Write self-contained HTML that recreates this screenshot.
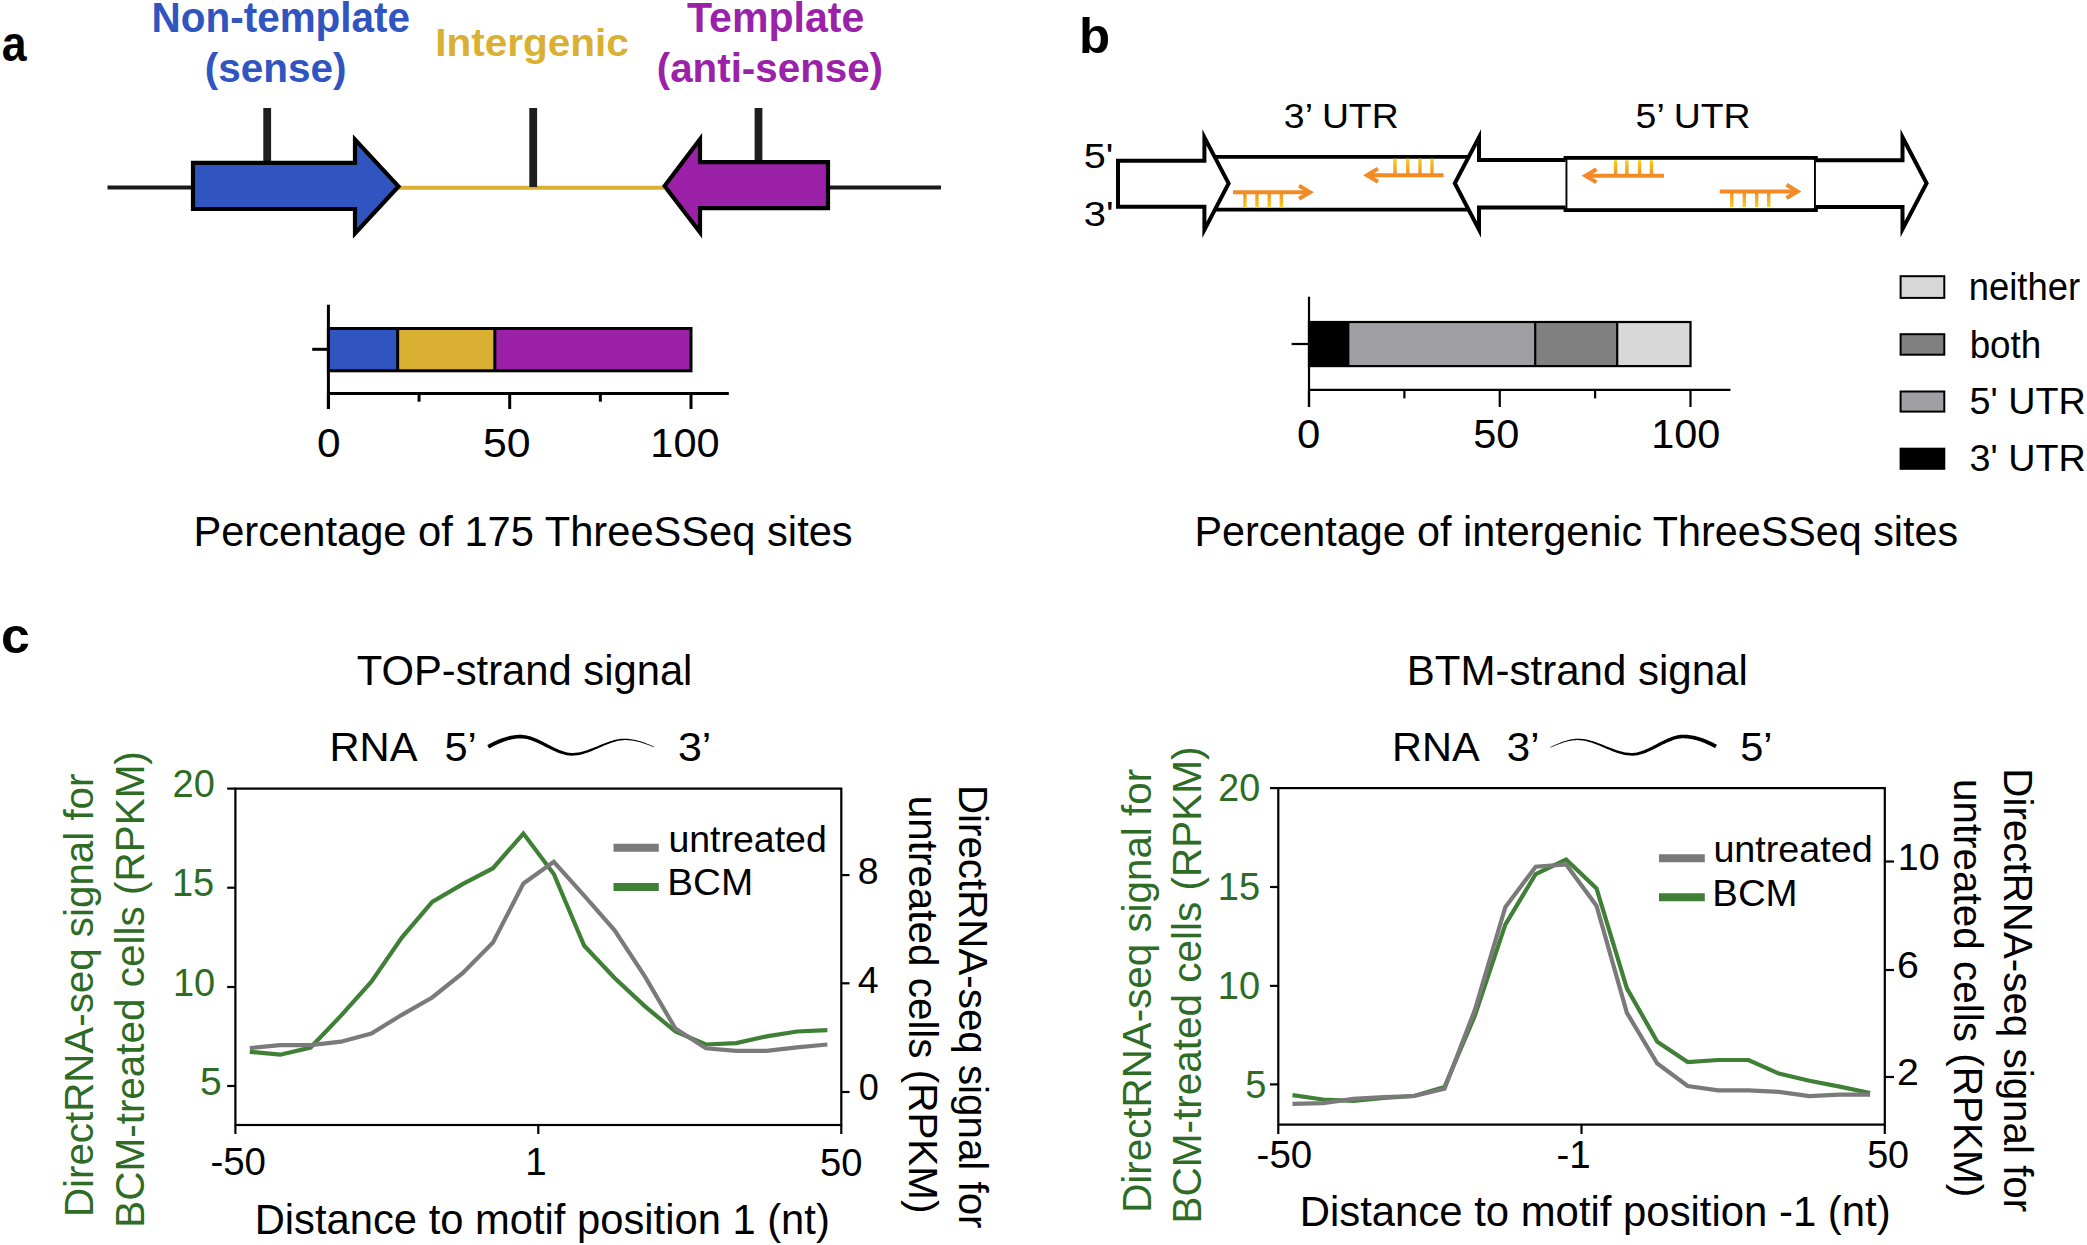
<!DOCTYPE html>
<html><head><meta charset="utf-8"><title>Figure</title>
<style>
html,body{margin:0;padding:0;background:#fff;}
body{width:2087px;height:1245px;overflow:hidden;}
svg{display:block;font-family:"Liberation Sans", Arial, sans-serif;}
</style></head>
<body>
<svg width="2087" height="1245" viewBox="0 0 2087 1245">
<rect width="2087" height="1245" fill="#fff"/>
<line x1="107.5" y1="187.6" x2="195" y2="187.6" stroke="#1a1a1a" stroke-width="4"/>
<line x1="398" y1="187.7" x2="664" y2="187.7" stroke="#dab032" stroke-width="4"/>
<line x1="826" y1="187.4" x2="941" y2="187.4" stroke="#1a1a1a" stroke-width="4"/>
<line x1="267.2" y1="108" x2="267.2" y2="163" stroke="#1e1e1e" stroke-width="7.8"/>
<line x1="533.2" y1="108" x2="533.2" y2="187" stroke="#1e1e1e" stroke-width="7.8"/>
<line x1="758.5" y1="108" x2="758.5" y2="163" stroke="#1e1e1e" stroke-width="7.8"/>
<path d="M193,162.8 L355,162.8 L355,139.5 L398.5,186.4 L355,233.5 L355,209 L193,209 Z" fill="#3054c0" stroke="#000" stroke-width="4.2" stroke-linejoin="miter" stroke-miterlimit="10"/>
<path d="M828,162.2 L700,162.2 L700,139.3 L664.6,186 L700,232.2 L700,208.2 L828,208.2 Z" fill="#9b22a8" stroke="#000" stroke-width="4.2" stroke-linejoin="miter" stroke-miterlimit="10"/>
<rect x="328.4" y="328.5" width="69.25659999999999" height="42.3" fill="#3054c0"/>
<rect x="397.65659999999997" y="328.5" width="97.17680000000001" height="42.3" fill="#dab032"/>
<rect x="494.8334" y="328.5" width="196.16660000000002" height="42.3" fill="#9b22a8"/>
<rect x="328.4" y="328.5" width="362.6" height="42.3" fill="none" stroke="#000" stroke-width="3"/>
<line x1="397.65659999999997" y1="328.5" x2="397.65659999999997" y2="370.8" stroke="#000" stroke-width="3"/>
<line x1="494.8334" y1="328.5" x2="494.8334" y2="370.8" stroke="#000" stroke-width="3"/>
<line x1="328.4" y1="304.7" x2="328.4" y2="409" stroke="#000" stroke-width="3"/>
<line x1="312.2" y1="349.3" x2="328.4" y2="349.3" stroke="#000" stroke-width="3"/>
<line x1="328.4" y1="393.5" x2="728.8" y2="393.5" stroke="#000" stroke-width="3"/>
<line x1="328.4" y1="393.5" x2="328.4" y2="409" stroke="#000" stroke-width="3"/>
<line x1="419.04999999999995" y1="393.5" x2="419.04999999999995" y2="401.7" stroke="#000" stroke-width="3"/>
<line x1="509.7" y1="393.5" x2="509.7" y2="409" stroke="#000" stroke-width="3"/>
<line x1="600.3499999999999" y1="393.5" x2="600.3499999999999" y2="401.7" stroke="#000" stroke-width="3"/>
<line x1="691.0" y1="393.5" x2="691.0" y2="409" stroke="#000" stroke-width="3"/>
<path d="M1208,156.9 L1476,156.9 M1208,209.7 L1476,209.7" stroke="#000" stroke-width="3.8"/>
<rect x="1565.5" y="157.9" width="250.4" height="52.2" fill="none" stroke="#000" stroke-width="3.8"/>
<path d="M1118,160.8 L1204.4,160.8 L1204.4,137.4 L1228.6,183.4 L1204.4,229.8 L1204.4,206.8 L1118,206.8 Z" fill="#fff" stroke="#000" stroke-width="4" stroke-miterlimit="10"/>
<path d="M1565.5,159.9 L1479,159.9 L1479,137.4 L1454.8,183.3 L1479,229.6 L1479,207.5 L1565.5,207.5" fill="#fff" stroke="#000" stroke-width="4" stroke-miterlimit="10"/>
<path d="M1815.9,160.2 L1902.5,160.2 L1902.5,137.2 L1926.6,183.2 L1902.5,229.2 L1902.5,207 L1815.9,207" fill="#fff" stroke="#000" stroke-width="4" stroke-miterlimit="10"/>
<defs>
<linearGradient id="gd" x1="0" y1="0" x2="0" y2="1"><stop offset="0" stop-color="#f28a25"/><stop offset="1" stop-color="#f5d21c"/></linearGradient>
<linearGradient id="gu" x1="0" y1="1" x2="0" y2="0"><stop offset="0" stop-color="#f28a25"/><stop offset="1" stop-color="#f5d21c"/></linearGradient>
</defs>
<line x1="1233" y1="192.2" x2="1310" y2="192.2" stroke="#f28a25" stroke-width="4"/>
<path d="M1299,185.6 L1310,192.2 L1299,198.79999999999998" fill="none" stroke="#f28a25" stroke-width="4" stroke-linejoin="miter"/>
<rect x="1243.2" y="192.2" width="3.4" height="15.400000000000006" fill="url(#gd)"/>
<rect x="1255.3" y="192.2" width="3.4" height="15.400000000000006" fill="url(#gd)"/>
<rect x="1267.5" y="192.2" width="3.4" height="15.400000000000006" fill="url(#gd)"/>
<rect x="1279.6" y="192.2" width="3.4" height="15.400000000000006" fill="url(#gd)"/>
<line x1="1367" y1="175.2" x2="1443.5" y2="175.2" stroke="#f28a25" stroke-width="4"/>
<path d="M1378,168.6 L1367,175.2 L1378,181.79999999999998" fill="none" stroke="#f28a25" stroke-width="4" stroke-linejoin="miter"/>
<rect x="1393.3" y="158.7" width="3.4" height="16.5" fill="url(#gu)"/>
<rect x="1406.1" y="158.7" width="3.4" height="16.5" fill="url(#gu)"/>
<rect x="1418.3" y="158.7" width="3.4" height="16.5" fill="url(#gu)"/>
<rect x="1430.3" y="158.7" width="3.4" height="16.5" fill="url(#gu)"/>
<line x1="1585.5" y1="175.8" x2="1664" y2="175.8" stroke="#f28a25" stroke-width="4"/>
<path d="M1596.5,169.20000000000002 L1585.5,175.8 L1596.5,182.4" fill="none" stroke="#f28a25" stroke-width="4" stroke-linejoin="miter"/>
<rect x="1613.8999999999999" y="160.3" width="3.4" height="15.5" fill="url(#gu)"/>
<rect x="1625.2" y="160.3" width="3.4" height="15.5" fill="url(#gu)"/>
<rect x="1637.8999999999999" y="160.3" width="3.4" height="15.5" fill="url(#gu)"/>
<rect x="1649.8" y="160.3" width="3.4" height="15.5" fill="url(#gu)"/>
<line x1="1719.8" y1="191.4" x2="1797.5" y2="191.4" stroke="#f28a25" stroke-width="4"/>
<path d="M1786.5,184.8 L1797.5,191.4 L1786.5,198.0" fill="none" stroke="#f28a25" stroke-width="4" stroke-linejoin="miter"/>
<rect x="1730.1" y="191.4" width="3.4" height="15.599999999999994" fill="url(#gd)"/>
<rect x="1742.6" y="191.4" width="3.4" height="15.599999999999994" fill="url(#gd)"/>
<rect x="1755.0" y="191.4" width="3.4" height="15.599999999999994" fill="url(#gd)"/>
<rect x="1767.0" y="191.4" width="3.4" height="15.599999999999994" fill="url(#gd)"/>
<rect x="1309.0" y="322.0" width="39.29449999999997" height="44.1" fill="#000" />
<rect x="1348.2945" y="322.0" width="186.90550000000007" height="44.1" fill="#a0a0a4" />
<rect x="1535.2" y="322.0" width="82.0" height="44.1" fill="#808080" />
<rect x="1617.2" y="322.0" width="73.29999999999995" height="44.1" fill="#d8d8d8" />
<rect x="1309.0" y="322.0" width="381.5" height="44.1" fill="none" stroke="#000" stroke-width="2.2"/>
<line x1="1348.2945" y1="322.0" x2="1348.2945" y2="366.1" stroke="#000" stroke-width="2.2"/>
<line x1="1535.2" y1="322.0" x2="1535.2" y2="366.1" stroke="#000" stroke-width="2.2"/>
<line x1="1617.2" y1="322.0" x2="1617.2" y2="366.1" stroke="#000" stroke-width="2.2"/>
<line x1="1309.0" y1="296.7" x2="1309.0" y2="407" stroke="#000" stroke-width="2.2"/>
<line x1="1291.6" y1="344.0" x2="1309.0" y2="344.0" stroke="#000" stroke-width="2.2"/>
<line x1="1309.0" y1="389.9" x2="1730.5" y2="389.9" stroke="#000" stroke-width="2.2"/>
<line x1="1309.0" y1="389.9" x2="1309.0" y2="407" stroke="#000" stroke-width="2.2"/>
<line x1="1404.375" y1="389.9" x2="1404.375" y2="398.4" stroke="#000" stroke-width="2.2"/>
<line x1="1499.75" y1="389.9" x2="1499.75" y2="407" stroke="#000" stroke-width="2.2"/>
<line x1="1595.125" y1="389.9" x2="1595.125" y2="398.4" stroke="#000" stroke-width="2.2"/>
<line x1="1690.5" y1="389.9" x2="1690.5" y2="407" stroke="#000" stroke-width="2.2"/>
<rect x="1900.6" y="276.2" width="43.7" height="21.69999999999999" fill="#d8d8d8" stroke="#000" stroke-width="2"/>
<rect x="1900.6" y="334.2" width="43.7" height="20.5" fill="#808080" stroke="#000" stroke-width="2"/>
<rect x="1900.6" y="391.5" width="43.7" height="20.100000000000023" fill="#a0a0a4" stroke="#000" stroke-width="2"/>
<rect x="1900.6" y="448.7" width="43.7" height="20.100000000000023" fill="#000" stroke="#000" stroke-width="2"/>
<path d="M489.13,748.51 L489.93,748.08 L490.73,747.65 L491.52,747.22 L492.32,746.81 L493.11,746.40 L493.90,746.00 L494.70,745.60 L495.49,745.22 L496.28,744.84 L497.07,744.47 L497.86,744.11 L498.65,743.75 L499.44,743.41 L500.23,743.08 L501.02,742.75 L501.80,742.44 L502.59,742.13 L503.38,741.84 L504.16,741.56 L504.94,741.28 L505.73,741.02 L506.51,740.77 L507.29,740.53 L508.07,740.30 L508.85,740.09 L509.63,739.88 L510.41,739.69 L511.19,739.51 L511.97,739.35 L512.75,739.19 L513.52,739.05 L514.30,738.92 L515.07,738.81 L515.85,738.71 L516.62,738.62 L517.39,738.55 L518.17,738.49 L518.94,738.45 L519.71,738.42 L520.45,738.41 L521.66,738.43 L522.88,738.51 L524.10,738.64 L525.32,738.83 L526.56,739.07 L527.80,739.37 L529.04,739.70 L530.30,740.08 L531.55,740.50 L532.82,740.96 L534.08,741.45 L535.36,741.97 L536.63,742.52 L537.91,743.10 L539.20,743.70 L540.48,744.31 L541.78,744.94 L543.07,745.58 L544.37,746.23 L545.67,746.88 L546.97,747.54 L548.28,748.19 L549.59,748.83 L550.90,749.47 L552.21,750.10 L553.53,750.71 L554.85,751.30 L556.17,751.87 L557.50,752.41 L558.83,752.93 L560.17,753.41 L561.50,753.85 L562.85,754.26 L564.19,754.62 L565.54,754.93 L566.89,755.20 L568.25,755.40 L569.61,755.55 L570.97,755.64 L572.33,755.65 L573.70,755.61 L575.06,755.51 L576.42,755.36 L577.78,755.16 L579.13,754.92 L580.48,754.63 L581.82,754.31 L583.16,753.94 L584.50,753.55 L585.83,753.12 L587.16,752.67 L588.48,752.19 L589.81,751.69 L591.13,751.17 L592.45,750.64 L593.77,750.09 L595.08,749.53 L596.39,748.96 L597.70,748.39 L599.01,747.82 L600.32,747.25 L601.62,746.68 L602.93,746.12 L604.23,745.56 L605.53,745.02 L606.83,744.49 L608.13,743.98 L609.42,743.49 L610.72,743.02 L612.01,742.58 L613.30,742.16 L614.59,741.78 L615.88,741.43 L617.17,741.11 L618.46,740.83 L619.75,740.60 L621.03,740.41 L622.32,740.26 L623.60,740.16 L624.89,740.12 L625.61,740.11 L626.34,740.12 L627.06,740.14 L627.78,740.17 L628.50,740.22 L629.23,740.27 L629.95,740.33 L630.68,740.41 L631.40,740.50 L632.13,740.59 L632.85,740.70 L633.58,740.82 L634.31,740.95 L635.03,741.08 L635.76,741.23 L636.49,741.38 L637.22,741.55 L637.95,741.72 L638.68,741.90 L639.41,742.10 L640.14,742.29 L640.87,742.50 L641.60,742.72 L642.33,742.94 L643.06,743.17 L643.80,743.41 L644.53,743.65 L645.26,743.90 L646.00,744.16 L646.73,744.42 L647.46,744.69 L648.20,744.97 L648.93,745.25 L649.67,745.54 L650.40,745.83 L651.13,746.13 L651.87,746.44 L652.61,746.74 L653.34,747.06 L654.08,747.37 L654.32,746.83 L653.59,746.49 L652.86,746.15 L652.14,745.83 L651.41,745.50 L650.68,745.18 L649.94,744.87 L649.21,744.56 L648.48,744.25 L647.75,743.95 L647.02,743.66 L646.29,743.38 L645.56,743.10 L644.83,742.82 L644.09,742.56 L643.36,742.30 L642.63,742.04 L641.89,741.80 L641.16,741.56 L640.43,741.33 L639.69,741.11 L638.96,740.89 L638.22,740.69 L637.49,740.49 L636.75,740.30 L636.01,740.13 L635.28,739.96 L634.54,739.80 L633.80,739.65 L633.06,739.51 L632.32,739.38 L631.58,739.26 L630.84,739.15 L630.10,739.05 L629.36,738.96 L628.62,738.89 L627.88,738.82 L627.14,738.77 L626.39,738.73 L625.65,738.70 L624.91,738.68 L623.57,738.69 L622.22,738.76 L620.88,738.87 L619.53,739.04 L618.19,739.25 L616.85,739.50 L615.51,739.79 L614.17,740.12 L612.83,740.48 L611.49,740.88 L610.15,741.30 L608.82,741.75 L607.48,742.21 L606.15,742.70 L604.82,743.21 L603.49,743.73 L602.16,744.26 L600.84,744.79 L599.51,745.33 L598.19,745.88 L596.87,746.42 L595.55,746.96 L594.23,747.50 L592.91,748.02 L591.60,748.53 L590.29,749.03 L588.98,749.51 L587.68,749.97 L586.37,750.41 L585.07,750.82 L583.77,751.21 L582.48,751.56 L581.19,751.88 L579.90,752.16 L578.62,752.40 L577.34,752.60 L576.07,752.76 L574.80,752.87 L573.53,752.93 L572.27,752.95 L571.04,752.90 L569.81,752.79 L568.58,752.63 L567.35,752.41 L566.11,752.15 L564.87,751.83 L563.62,751.47 L562.38,751.06 L561.12,750.62 L559.87,750.14 L558.61,749.63 L557.35,749.08 L556.08,748.51 L554.81,747.92 L553.54,747.30 L552.26,746.67 L550.98,746.02 L549.70,745.36 L548.42,744.69 L547.13,744.02 L545.84,743.35 L544.55,742.67 L543.25,742.01 L541.96,741.35 L540.65,740.70 L539.35,740.07 L538.04,739.46 L536.72,738.87 L535.41,738.31 L534.08,737.77 L532.76,737.27 L531.42,736.80 L530.09,736.37 L528.74,735.99 L527.39,735.65 L526.04,735.36 L524.67,735.13 L523.30,734.95 L521.93,734.84 L520.55,734.79 L519.67,734.79 L518.83,734.81 L517.99,734.85 L517.15,734.90 L516.30,734.97 L515.46,735.05 L514.62,735.15 L513.78,735.26 L512.94,735.39 L512.10,735.53 L511.27,735.69 L510.43,735.86 L509.59,736.04 L508.76,736.24 L507.92,736.44 L507.09,736.67 L506.25,736.90 L505.42,737.15 L504.59,737.41 L503.76,737.67 L502.92,737.96 L502.09,738.25 L501.27,738.55 L500.44,738.86 L499.61,739.19 L498.78,739.52 L497.95,739.86 L497.13,740.22 L496.30,740.58 L495.48,740.95 L494.65,741.33 L493.83,741.71 L493.01,742.11 L492.19,742.51 L491.36,742.93 L490.54,743.34 L489.72,743.77 L488.90,744.20 L488.08,744.64 L487.27,745.09Z" fill="#000"/>
<path d="M1550.42,747.67 L1551.12,747.37 L1551.82,747.07 L1552.51,746.77 L1553.21,746.48 L1553.90,746.19 L1554.60,745.90 L1555.29,745.61 L1555.99,745.32 L1556.68,745.05 L1557.38,744.77 L1558.07,744.50 L1558.76,744.23 L1559.46,743.97 L1560.15,743.72 L1560.84,743.47 L1561.54,743.22 L1562.23,742.99 L1562.92,742.76 L1563.61,742.54 L1564.30,742.32 L1564.99,742.11 L1565.68,741.92 L1566.37,741.72 L1567.06,741.54 L1567.75,741.37 L1568.43,741.21 L1569.12,741.05 L1569.81,740.91 L1570.49,740.78 L1571.18,740.66 L1571.86,740.55 L1572.55,740.45 L1573.23,740.36 L1573.91,740.28 L1574.59,740.22 L1575.28,740.17 L1575.96,740.13 L1576.64,740.11 L1577.31,740.09 L1577.99,740.10 L1579.30,740.14 L1580.62,740.24 L1581.94,740.38 L1583.26,740.58 L1584.59,740.81 L1585.91,741.09 L1587.23,741.41 L1588.56,741.76 L1589.88,742.14 L1591.21,742.56 L1592.54,743.01 L1593.86,743.48 L1595.20,743.97 L1596.53,744.48 L1597.86,745.01 L1599.20,745.55 L1600.53,746.11 L1601.87,746.67 L1603.21,747.24 L1604.55,747.82 L1605.89,748.39 L1607.24,748.96 L1608.58,749.53 L1609.93,750.09 L1611.28,750.64 L1612.64,751.17 L1613.99,751.69 L1615.35,752.19 L1616.71,752.67 L1618.08,753.13 L1619.45,753.55 L1620.82,753.95 L1622.19,754.31 L1623.57,754.64 L1624.95,754.92 L1626.34,755.17 L1627.73,755.36 L1629.13,755.51 L1630.53,755.61 L1631.93,755.65 L1633.28,755.63 L1634.63,755.54 L1635.98,755.39 L1637.32,755.18 L1638.65,754.91 L1639.99,754.60 L1641.31,754.23 L1642.64,753.83 L1643.96,753.38 L1645.28,752.90 L1646.59,752.38 L1647.91,751.83 L1649.21,751.26 L1650.52,750.67 L1651.82,750.05 L1653.12,749.43 L1654.42,748.78 L1655.71,748.13 L1657.00,747.48 L1658.29,746.82 L1659.57,746.17 L1660.86,745.52 L1662.14,744.87 L1663.41,744.24 L1664.68,743.63 L1665.95,743.03 L1667.21,742.45 L1668.47,741.90 L1669.73,741.38 L1670.98,740.88 L1672.22,740.42 L1673.46,740.00 L1674.70,739.62 L1675.92,739.28 L1677.15,738.99 L1678.36,738.74 L1679.57,738.55 L1680.77,738.41 L1681.96,738.33 L1683.18,738.30 L1683.97,738.32 L1684.76,738.34 L1685.55,738.38 L1686.33,738.44 L1687.12,738.51 L1687.91,738.59 L1688.70,738.68 L1689.49,738.79 L1690.28,738.91 L1691.07,739.04 L1691.86,739.19 L1692.66,739.35 L1693.45,739.52 L1694.24,739.70 L1695.03,739.90 L1695.83,740.11 L1696.62,740.32 L1697.42,740.55 L1698.21,740.80 L1699.01,741.05 L1699.81,741.31 L1700.60,741.59 L1701.40,741.87 L1702.20,742.17 L1703.00,742.48 L1703.80,742.79 L1704.60,743.12 L1705.40,743.46 L1706.20,743.81 L1707.00,744.16 L1707.81,744.53 L1708.61,744.90 L1709.41,745.28 L1710.22,745.68 L1711.02,746.08 L1711.83,746.49 L1712.63,746.91 L1713.44,747.33 L1714.25,747.76 L1715.07,748.21 L1716.93,744.79 L1716.11,744.34 L1715.28,743.90 L1714.45,743.46 L1713.61,743.03 L1712.78,742.61 L1711.94,742.20 L1711.11,741.79 L1710.27,741.40 L1709.43,741.02 L1708.60,740.64 L1707.76,740.27 L1706.92,739.92 L1706.08,739.57 L1705.24,739.23 L1704.40,738.91 L1703.56,738.59 L1702.72,738.29 L1701.88,737.99 L1701.03,737.71 L1700.19,737.44 L1699.35,737.18 L1698.50,736.93 L1697.66,736.70 L1696.81,736.47 L1695.97,736.26 L1695.12,736.06 L1694.27,735.87 L1693.42,735.70 L1692.58,735.54 L1691.73,735.39 L1690.88,735.26 L1690.03,735.14 L1689.18,735.03 L1688.33,734.94 L1687.48,734.86 L1686.63,734.80 L1685.77,734.75 L1684.92,734.72 L1684.07,734.70 L1683.22,734.70 L1681.87,734.74 L1680.50,734.85 L1679.14,735.02 L1677.78,735.25 L1676.43,735.54 L1675.09,735.88 L1673.75,736.27 L1672.42,736.70 L1671.09,737.17 L1669.77,737.68 L1668.46,738.22 L1667.15,738.79 L1665.84,739.38 L1664.54,740.00 L1663.24,740.64 L1661.95,741.29 L1660.66,741.95 L1659.37,742.62 L1658.09,743.30 L1656.81,743.98 L1655.53,744.65 L1654.26,745.33 L1652.99,745.99 L1651.72,746.64 L1650.45,747.28 L1649.19,747.90 L1647.93,748.50 L1646.67,749.08 L1645.42,749.62 L1644.17,750.14 L1642.92,750.62 L1641.68,751.07 L1640.44,751.48 L1639.20,751.84 L1637.97,752.16 L1636.74,752.42 L1635.52,752.64 L1634.30,752.80 L1633.08,752.90 L1631.87,752.95 L1630.58,752.93 L1629.28,752.87 L1627.98,752.76 L1626.68,752.60 L1625.37,752.40 L1624.06,752.15 L1622.74,751.87 L1621.42,751.55 L1620.10,751.20 L1618.77,750.82 L1617.44,750.41 L1616.11,749.97 L1614.77,749.51 L1613.43,749.03 L1612.09,748.53 L1610.75,748.02 L1609.40,747.50 L1608.05,746.97 L1606.70,746.43 L1605.35,745.88 L1604.00,745.34 L1602.64,744.80 L1601.28,744.27 L1599.92,743.74 L1598.56,743.22 L1597.20,742.72 L1595.84,742.23 L1594.48,741.76 L1593.11,741.32 L1591.74,740.89 L1590.37,740.50 L1589.00,740.14 L1587.63,739.81 L1586.26,739.52 L1584.89,739.27 L1583.52,739.06 L1582.14,738.89 L1580.77,738.78 L1579.39,738.71 L1578.01,738.70 L1577.30,738.72 L1576.59,738.75 L1575.89,738.80 L1575.18,738.86 L1574.48,738.93 L1573.78,739.01 L1573.07,739.11 L1572.37,739.22 L1571.67,739.34 L1570.97,739.47 L1570.27,739.62 L1569.57,739.77 L1568.87,739.94 L1568.18,740.12 L1567.48,740.30 L1566.78,740.50 L1566.08,740.70 L1565.39,740.91 L1564.69,741.13 L1564.00,741.36 L1563.30,741.60 L1562.61,741.84 L1561.92,742.10 L1561.22,742.35 L1560.53,742.62 L1559.84,742.89 L1559.15,743.16 L1558.46,743.45 L1557.76,743.73 L1557.07,744.02 L1556.38,744.32 L1555.69,744.62 L1555.00,744.92 L1554.31,745.23 L1553.62,745.54 L1552.93,745.85 L1552.24,746.17 L1551.55,746.49 L1550.87,746.81 L1550.18,747.13Z" fill="#000"/>
<rect x="235.4" y="788.6" width="605.9" height="336.4" fill="none" stroke="#000" stroke-width="2.2"/>
<line x1="227.2" y1="788.6" x2="235.4" y2="788.6" stroke="#000" stroke-width="2.2"/>
<line x1="227.2" y1="887.7" x2="235.4" y2="887.7" stroke="#000" stroke-width="2.2"/>
<line x1="227.2" y1="987.0" x2="235.4" y2="987.0" stroke="#000" stroke-width="2.2"/>
<line x1="227.2" y1="1086.0" x2="235.4" y2="1086.0" stroke="#000" stroke-width="2.2"/>
<line x1="841.3" y1="875.1" x2="849.5" y2="875.1" stroke="#000" stroke-width="2.2"/>
<line x1="841.3" y1="983.3" x2="849.5" y2="983.3" stroke="#000" stroke-width="2.2"/>
<line x1="841.3" y1="1092.0" x2="849.5" y2="1092.0" stroke="#000" stroke-width="2.2"/>
<line x1="235.4" y1="1125.0" x2="235.4" y2="1134" stroke="#000" stroke-width="2.2"/>
<line x1="538.3" y1="1125.0" x2="538.3" y2="1134" stroke="#000" stroke-width="2.2"/>
<line x1="841.3" y1="1125.0" x2="841.3" y2="1134" stroke="#000" stroke-width="2.2"/>
<polyline points="249.8,1051.8 280.2,1054.7 310.6,1047.5 341.0,1015.7 371.4,981.6 401.8,937.6 432.2,902.0 462.6,884.1 493.0,868.2 523.4,833.5 553.8,874.0 584.2,945.8 614.6,978.0 645.0,1006.4 675.4,1031.5 705.8,1044.5 736.2,1043.1 766.6,1036.4 797.0,1031.5 827.4,1030.1" fill="none" stroke="#3f7f36" stroke-width="4.2" stroke-linejoin="miter" stroke-miterlimit="4"/>
<polyline points="249.8,1048.1 280.2,1045.2 310.6,1045.2 341.0,1041.7 371.4,1033.6 401.8,1014.8 432.2,997.5 462.6,973.2 493.0,942.5 523.4,883.5 553.8,861.8 584.2,895.6 614.6,930.3 645.0,976.6 675.4,1028.6 705.8,1048.3 736.2,1050.9 766.6,1050.9 797.0,1047.4 827.4,1044.5" fill="none" stroke="#7a7a7a" stroke-width="4.2" stroke-linejoin="miter" stroke-miterlimit="4"/>
<line x1="613.5" y1="847.8" x2="658.8" y2="847.8" stroke="#7a7a7a" stroke-width="8"/>
<line x1="613.5" y1="887" x2="658.8" y2="887" stroke="#3f7f36" stroke-width="8"/>
<rect x="1278.3" y="788.1" width="606.5" height="336.4999999999999" fill="none" stroke="#000" stroke-width="2.2"/>
<line x1="1270" y1="788.1" x2="1278.3" y2="788.1" stroke="#000" stroke-width="2.2"/>
<line x1="1270" y1="887.0" x2="1278.3" y2="887.0" stroke="#000" stroke-width="2.2"/>
<line x1="1270" y1="985.9" x2="1278.3" y2="985.9" stroke="#000" stroke-width="2.2"/>
<line x1="1270" y1="1084.4" x2="1278.3" y2="1084.4" stroke="#000" stroke-width="2.2"/>
<line x1="1884.8" y1="861.5" x2="1894" y2="861.5" stroke="#000" stroke-width="2.2"/>
<line x1="1884.8" y1="970.0" x2="1894" y2="970.0" stroke="#000" stroke-width="2.2"/>
<line x1="1884.8" y1="1077.0" x2="1894" y2="1077.0" stroke="#000" stroke-width="2.2"/>
<line x1="1278.3" y1="1124.6" x2="1278.3" y2="1134" stroke="#000" stroke-width="2.2"/>
<line x1="1581.5" y1="1124.6" x2="1581.5" y2="1134" stroke="#000" stroke-width="2.2"/>
<line x1="1884.8" y1="1124.6" x2="1884.8" y2="1134" stroke="#000" stroke-width="2.2"/>
<polyline points="1292.5,1095.1 1322.9,1099.5 1353.3,1100.9 1383.7,1098.0 1414.1,1096.0 1444.5,1087.0 1474.9,1015.6 1505.3,924.6 1535.7,874.0 1566.1,859.5 1596.5,888.5 1626.9,988.3 1657.3,1041.8 1687.7,1062.0 1718.1,1060.0 1748.5,1060.0 1778.9,1073.6 1809.3,1080.8 1839.7,1086.6 1870.1,1093.0" fill="none" stroke="#3f7f36" stroke-width="4.2" stroke-linejoin="miter" stroke-miterlimit="4"/>
<polyline points="1292.5,1103.8 1322.9,1103.2 1353.3,1098.9 1383.7,1097.1 1414.1,1096.0 1444.5,1088.8 1474.9,1009.8 1505.3,907.2 1535.7,866.7 1566.1,864.4 1596.5,905.8 1626.9,1012.9 1657.3,1063.5 1687.7,1086.0 1718.1,1090.4 1748.5,1090.4 1778.9,1091.8 1809.3,1096.2 1839.7,1094.7 1870.1,1094.7" fill="none" stroke="#7a7a7a" stroke-width="4.2" stroke-linejoin="miter" stroke-miterlimit="4"/>
<line x1="1659" y1="858.2" x2="1704.8" y2="858.2" stroke="#7a7a7a" stroke-width="8"/>
<line x1="1659" y1="897.2" x2="1704.8" y2="897.2" stroke="#3f7f36" stroke-width="8"/>
<text x="1.81" y="60.6" font-size="50" fill="#000" font-weight="bold" textLength="24.83" lengthAdjust="spacingAndGlyphs">a</text>
<text x="1078.94" y="52.5" font-size="50" fill="#000" font-weight="bold" textLength="31.13" lengthAdjust="spacingAndGlyphs">b</text>
<text x="1.03" y="653.4" font-size="50" fill="#000" font-weight="bold" textLength="28.86" lengthAdjust="spacingAndGlyphs">c</text>
<text x="151.61" y="32.4" font-size="42" fill="#3054c0" font-weight="bold" textLength="258.40" lengthAdjust="spacingAndGlyphs">Non-template</text>
<text x="204.83" y="82.4" font-size="41" fill="#3054c0" font-weight="bold" textLength="141.72" lengthAdjust="spacingAndGlyphs">(sense)</text>
<text x="435.24" y="56.4" font-size="39.7" fill="#dab032" font-weight="bold" textLength="193.67" lengthAdjust="spacingAndGlyphs">Intergenic</text>
<text x="687.00" y="32.3" font-size="42" fill="#9b22a8" font-weight="bold" textLength="177.25" lengthAdjust="spacingAndGlyphs">Template</text>
<text x="656.73" y="82.4" font-size="41" fill="#9b22a8" font-weight="bold" textLength="226.34" lengthAdjust="spacingAndGlyphs">(anti-sense)</text>
<text x="317.06" y="457.3" font-size="41.5" fill="#000" textLength="23.58" lengthAdjust="spacingAndGlyphs">0</text>
<text x="482.94" y="457.3" font-size="41.5" fill="#000" textLength="47.60" lengthAdjust="spacingAndGlyphs">50</text>
<text x="650.30" y="457.3" font-size="41.5" fill="#000">100</text>
<text x="193.40" y="545.9" font-size="41.7" fill="#000" textLength="659.32" lengthAdjust="spacingAndGlyphs">Percentage of 175 ThreeSSeq sites</text>
<text x="1283.89" y="127.8" font-size="35.3" fill="#000" textLength="114.72" lengthAdjust="spacingAndGlyphs">3’ UTR</text>
<text x="1635.58" y="127.9" font-size="35.3" fill="#000" textLength="115.03" lengthAdjust="spacingAndGlyphs">5’ UTR</text>
<text x="1083.76" y="168.3" font-size="35.3" fill="#000" textLength="29.59" lengthAdjust="spacingAndGlyphs">5'</text>
<text x="1083.74" y="225.7" font-size="35.3" fill="#000" textLength="29.82" lengthAdjust="spacingAndGlyphs">3'</text>
<text x="1297.06" y="448.3" font-size="41" fill="#000" textLength="23.29" lengthAdjust="spacingAndGlyphs">0</text>
<text x="1473.28" y="448.3" font-size="41" fill="#000" textLength="46.15" lengthAdjust="spacingAndGlyphs">50</text>
<text x="1651.27" y="448.3" font-size="41" fill="#000" textLength="69.06" lengthAdjust="spacingAndGlyphs">100</text>
<text x="1968.72" y="300.4" font-size="38" fill="#000" textLength="111.37" lengthAdjust="spacingAndGlyphs">neither</text>
<text x="1969.66" y="357.5" font-size="38" fill="#000" textLength="71.61" lengthAdjust="spacingAndGlyphs">both</text>
<text x="1969.59" y="414.4" font-size="37.5" fill="#000" textLength="116.24" lengthAdjust="spacingAndGlyphs">5' UTR</text>
<text x="1969.59" y="470.8" font-size="37.5" fill="#000" textLength="116.24" lengthAdjust="spacingAndGlyphs">3' UTR</text>
<text x="1194.43" y="546.1" font-size="41.7" fill="#000" textLength="763.68" lengthAdjust="spacingAndGlyphs">Percentage of intergenic ThreeSSeq sites</text>
<text x="356.70" y="685.3" font-size="41.7" fill="#000" textLength="335.71" lengthAdjust="spacingAndGlyphs">TOP-strand signal</text>
<text x="1406.78" y="685.3" font-size="41.7" fill="#000" textLength="340.99" lengthAdjust="spacingAndGlyphs">BTM-strand signal</text>
<text x="329.49" y="761" font-size="41.5" fill="#000" textLength="87.94" lengthAdjust="spacingAndGlyphs">RNA</text>
<text x="444.50" y="760.6" font-size="41.5" fill="#000">5’</text>
<text x="677.93" y="760.6" font-size="41.5" fill="#000" textLength="33.47" lengthAdjust="spacingAndGlyphs">3’</text>
<text x="1392.00" y="761" font-size="41.5" fill="#000">RNA</text>
<text x="1506.77" y="760.6" font-size="41.5" fill="#000" textLength="32.77" lengthAdjust="spacingAndGlyphs">3’</text>
<text x="1740.20" y="760.6" font-size="41.5" fill="#000">5’</text>
<text x="172.60" y="797.3" font-size="38" fill="#2e6b25">20</text>
<text x="171.90" y="896.3" font-size="38" fill="#2e6b25">15</text>
<text x="172.90" y="995.5" font-size="38" fill="#2e6b25">10</text>
<text x="200.04" y="1094.6" font-size="38" fill="#2e6b25" textLength="21.76" lengthAdjust="spacingAndGlyphs">5</text>
<text x="857.70" y="884.1" font-size="37.5" fill="#000">8</text>
<text x="857.80" y="992.8" font-size="37.5" fill="#000">4</text>
<text x="858.74" y="1100.4" font-size="37.5" fill="#000" textLength="20.05" lengthAdjust="spacingAndGlyphs">0</text>
<text x="210.40" y="1175.4" font-size="38.5" fill="#000">-50</text>
<text x="525.30" y="1175.4" font-size="38.5" fill="#000">1</text>
<text x="820.12" y="1175.6" font-size="38.5" fill="#000" textLength="42.39" lengthAdjust="spacingAndGlyphs">50</text>
<text x="254.71" y="1234" font-size="41.8" fill="#000" textLength="575.12" lengthAdjust="spacingAndGlyphs">Distance to motif position 1 (nt)</text>
<text x="668.42" y="851.8" font-size="36" fill="#000" textLength="158.40" lengthAdjust="spacingAndGlyphs">untreated</text>
<text x="667.28" y="895" font-size="36" fill="#000" textLength="85.95" lengthAdjust="spacingAndGlyphs">BCM</text>
<text transform="translate(93.4,1217.11) rotate(-90)" font-size="41.5" fill="#2e6b25" textLength="443.55" lengthAdjust="spacingAndGlyphs">DirectRNA-seq signal for</text>
<text transform="translate(143.5,1227.72) rotate(-90)" font-size="41.5" fill="#2e6b25" textLength="476.53" lengthAdjust="spacingAndGlyphs">BCM-treated cells (RPKM)</text>
<text transform="translate(958.9,784.89) rotate(90)" font-size="41.5" fill="#000" textLength="443.65" lengthAdjust="spacingAndGlyphs">DirectRNA-seq signal for</text>
<text transform="translate(909.2,795.78) rotate(90)" font-size="41.5" fill="#000" textLength="417.63" lengthAdjust="spacingAndGlyphs">untreated cells (RPKM)</text>
<text x="1218.22" y="801.2" font-size="38" fill="#2e6b25" textLength="41.85" lengthAdjust="spacingAndGlyphs">20</text>
<text x="1217.80" y="900.0" font-size="38" fill="#2e6b25">15</text>
<text x="1217.80" y="999.4" font-size="38" fill="#2e6b25">10</text>
<text x="1245.30" y="1098.2" font-size="38" fill="#2e6b25">5</text>
<text x="1897.85" y="870.3" font-size="37.5" fill="#000">10</text>
<text x="1897.01" y="977.5" font-size="37.5" fill="#000" textLength="21.84" lengthAdjust="spacingAndGlyphs">6</text>
<text x="1897.01" y="1085.3" font-size="37.5" fill="#000" textLength="21.84" lengthAdjust="spacingAndGlyphs">2</text>
<text x="1256.60" y="1167.6" font-size="38.5" fill="#000">-50</text>
<text x="1556.45" y="1167.6" font-size="38.5" fill="#000">-1</text>
<text x="1867.14" y="1167.6" font-size="38.5" fill="#000" textLength="41.95" lengthAdjust="spacingAndGlyphs">50</text>
<text x="1299.70" y="1225.7" font-size="41.8" fill="#000" textLength="590.96" lengthAdjust="spacingAndGlyphs">Distance to motif position -1 (nt)</text>
<text x="1713.41" y="862.4" font-size="36" fill="#000" textLength="159.32" lengthAdjust="spacingAndGlyphs">untreated</text>
<text x="1712.30" y="905.8" font-size="36" fill="#000" textLength="85.30" lengthAdjust="spacingAndGlyphs">BCM</text>
<text transform="translate(1150.7,1212.82) rotate(-90)" font-size="41.5" fill="#2e6b25" textLength="443.95" lengthAdjust="spacingAndGlyphs">DirectRNA-seq signal for</text>
<text transform="translate(1201.0,1223.43) rotate(-90)" font-size="41.5" fill="#2e6b25" textLength="476.93" lengthAdjust="spacingAndGlyphs">BCM-treated cells (RPKM)</text>
<text transform="translate(2004.4,768.28) rotate(90)" font-size="41.5" fill="#000" textLength="443.95" lengthAdjust="spacingAndGlyphs">DirectRNA-seq signal for</text>
<text transform="translate(1954.3,778.88) rotate(90)" font-size="41.5" fill="#000" textLength="418.23" lengthAdjust="spacingAndGlyphs">untreated cells (RPKM)</text>
</svg>
</body></html>
